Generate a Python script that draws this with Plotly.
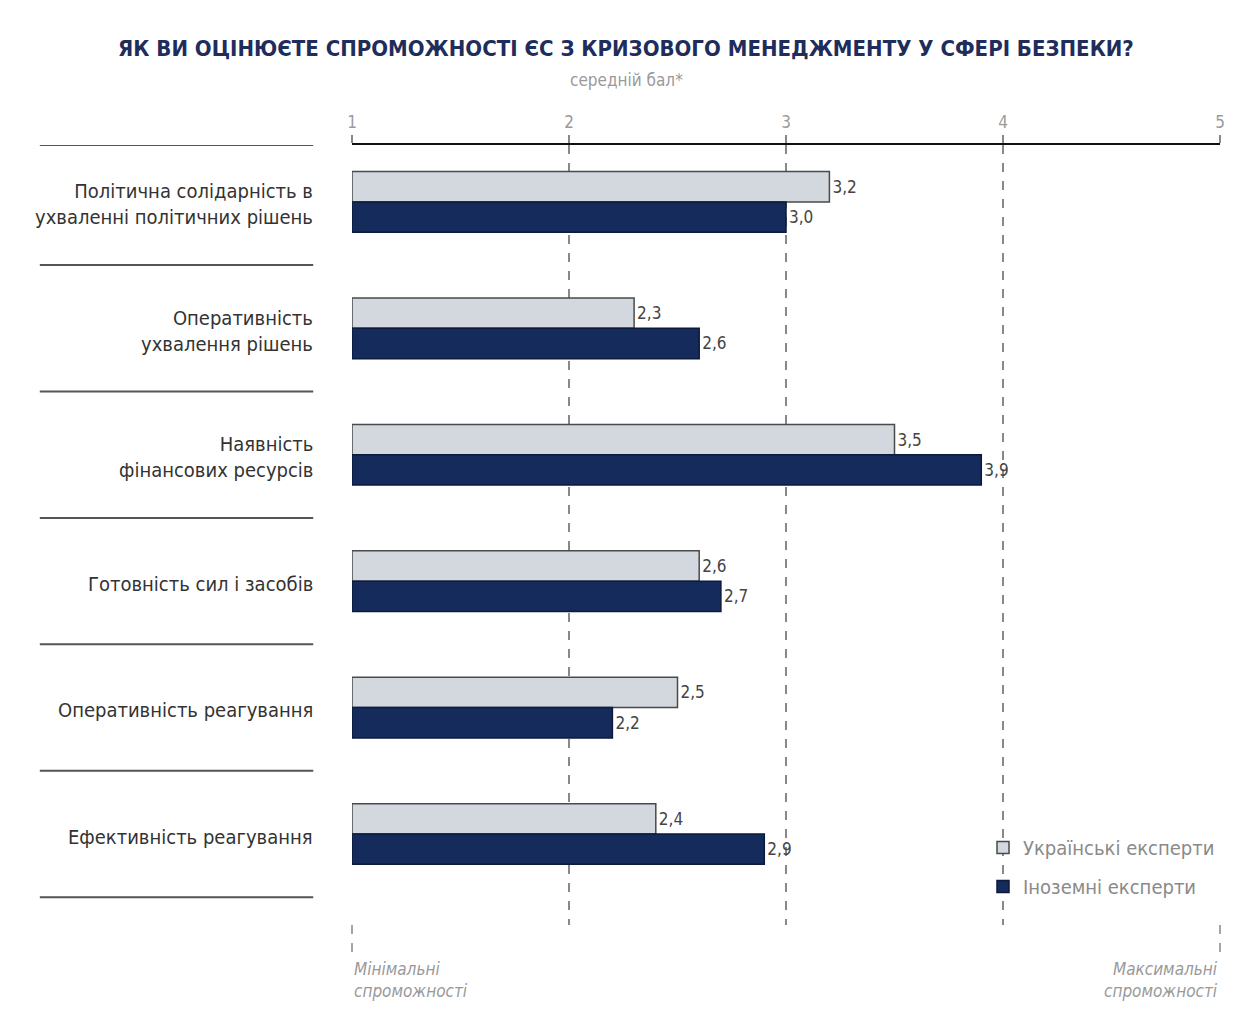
import plotly.graph_objects as go

categories = [
    "Політична солідарність в<br>ухваленні політичних рішень",
    "Оперативність<br>ухвалення рішень",
    "Наявність<br>фінансових ресурсів",
    "Готовність сил і засобів",
    "Оперативність реагування",
    "Ефективність реагування",
]
ukr_experts = [3.2, 2.3, 3.5, 2.6, 2.5, 2.4]
foreign_experts = [3.0, 2.6, 3.9, 2.7, 2.2, 2.9]
series_names = ["Українські експерти", "Іноземні експерти"]
x_ticks = [1, 2, 3, 4, 5]
title_text = "ЯК ВИ ОЦІНЮЄТЕ СПРОМОЖНОСТІ ЄС З КРИЗОВОГО МЕНЕДЖМЕНТУ У СФЕРІ БЕЗПЕКИ?"
subtitle_text = "середній бал*"

FONT = "DejaVu Sans Condensed, DejaVu Sans, sans-serif"
BASE = 1
pos = list(range(len(categories)))

def fmt(v):
    return f"{v:.1f}".replace(".", ",")

def f(size, color):
    return dict(family=FONT, size=size, color=color)

fig = go.Figure()
fig.add_trace(go.Bar(
    y=pos, x=[v - BASE for v in ukr_experts], base=BASE, orientation="h",
    width=0.24, offset=-0.24, name=series_names[0], legendgroup="a",
    marker=dict(color="#d3d7de", line=dict(color="#4a4a4a", width=1.5)),
    text=[fmt(v) for v in ukr_experts], textposition="outside",
    textfont=f(17, "#444444"), cliponaxis=False,
))
fig.add_trace(go.Bar(
    y=pos, x=[v - BASE for v in foreign_experts], base=BASE, orientation="h",
    width=0.24, offset=0.0, name=series_names[1], legendgroup="b",
    marker=dict(color="#142b5c", line=dict(color="#0b1a3d", width=1.5)),
    text=[fmt(v) for v in foreign_experts], textposition="outside",
    textfont=f(17, "#444444"), cliponaxis=False,
))

shapes = []
for s in [-0.45, 0.5, 1.5, 2.5, 3.5, 4.5, 5.5]:
    shapes.append(dict(type="line", xref="paper", yref="y",
                       x0=(38 - 352) / 873, x1=(313 - 352) / 873, y0=s, y1=s,
                       line=dict(color="#555555", width=2)))
for xp in [0, 1]:
    shapes.append(dict(type="line", xref="paper", yref="paper",
                       x0=xp, x1=xp, y0=0, y1=-(952 - 925) / 780,
                       line=dict(color="#888888", width=1.5, dash="dash")))

annotations = []
for i, c in enumerate(categories):
    annotations.append(dict(xref="paper", yref="y", x=(315 - 352) / 873, y=i + 0.02,
                            text=c, showarrow=False, xanchor="right", yanchor="middle",
                            align="right", font=f(20, "#333333")))
annotations.append(dict(xref="paper", yref="paper", x=0, y=-(957 - 925) / 780, xanchor="left", yanchor="top",
                        text="<i>Мінімальні<br>спроможності</i>", showarrow=False, align="left",
                        font=f(17, "#999999")))
annotations.append(dict(xref="paper", yref="paper", x=1, y=-(957 - 925) / 780, xanchor="right", yanchor="top",
                        text="<i>Максимальні<br>спроможності</i>", showarrow=False, align="right",
                        font=f(17, "#999999")))
annotations.append(dict(xref="paper", yref="paper", x=(628 - 352) / 873, y=1 + (145 - 48) / 780,
                        text="<b>" + title_text + "</b>", showarrow=False, xanchor="center", yanchor="middle",
                        font=f(22, "#1e2d5c")))
annotations.append(dict(xref="paper", yref="paper", x=(628 - 352) / 873, y=1 + (145 - 80) / 780,
                        text=subtitle_text, showarrow=False, xanchor="center", yanchor="middle",
                        font=f(17, "#9a9a9a")))

fig.update_layout(
    width=1237, height=1011,
    margin=dict(l=352, r=12, t=145, b=86),
    paper_bgcolor="white", plot_bgcolor="white",
    barmode="overlay",
    showlegend=True,
    legend=dict(x=1.0, y=(925 - 828) / 780, xanchor="right", yanchor="top", bgcolor="rgba(0,0,0,0)",
                font=f(20, "#8a8a8a"), traceorder="grouped",
                itemwidth=30, tracegroupgap=10),
    shapes=shapes, annotations=annotations,
    xaxis=dict(range=[1, 5], side="top", tickvals=x_ticks, ticktext=[str(t) for t in x_ticks],
               showline=True, linecolor="#111111", linewidth=2,
               ticks="outside", ticklen=8, tickcolor="#888888", tickwidth=1.5,
               tickfont=f(17, "#9a9a9a"),
               showgrid=True, gridcolor="#888888", gridwidth=1.5, griddash="dash",
               zeroline=False, fixedrange=True),
    yaxis=dict(range=[5.72, -0.45], showticklabels=False, showgrid=False, zeroline=False,
               showline=False, ticks=""),
)

fig.write_html("out.html")
